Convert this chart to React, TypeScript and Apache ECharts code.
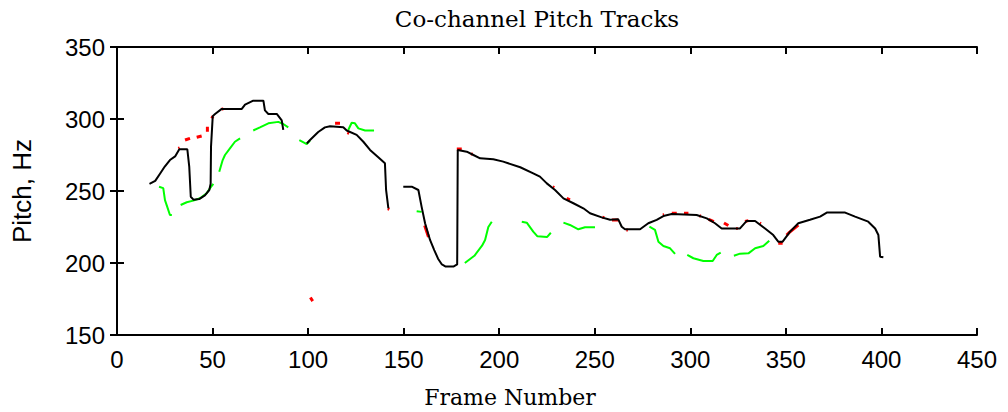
import React, { useEffect, useRef } from "react";
import * as echarts from "echarts";

// Axis ranges and tick spacing
const frameTicks = { min: 0, max: 450, interval: 50 };
const pitchTicks = { min: 150, max: 350, interval: 50 };

// Main (black) pitch track: [frame, pitch in Hz]; null pitch breaks the line
const blackTrack: [number, number | null][] = [
  [17, 255], [20, 257], [22.5, 262], [25, 267], [27.7, 271.5], [30.4, 274], [32.6, 279],
  [36.8, 279], [37.8, 267], [38.6, 246], [40, 244], [43, 244.4], [46, 247], [48.3, 250.7],
  [49, 255], [49.2, 281], [50.1, 302], [51.3, 303.5], [54.8, 307], [65.3, 307], [67, 310],
  [71.3, 312.7], [76.6, 312.7], [77.4, 306], [79.2, 303.5], [83.6, 303.5], [86.2, 299],
  [87, 292.4],
  [93, null],
  [99.3, 283], [101, 285.4], [105.3, 291], [108.8, 294.2], [111.5, 295], [118.4, 294.2],
  [120.2, 292], [125.4, 289], [128.9, 284.2], [132.4, 278.5], [136.7, 273.4], [140.2, 269.2],
  [140.8, 250.7], [142, 238],
  [146, null],
  [149.8, 253], [154.2, 253], [157.7, 250.7], [159.4, 239], [161.2, 227.6], [163.8, 216],
  [166, 209], [168, 203], [170, 199], [172, 197.5], [176, 197.5], [178, 199], [178.3, 278.5],
  [183, 277.3], [186.5, 275], [190, 272.7], [196.9, 272], [202.1, 270.4], [211, 266.5],
  [217.8, 262.3], [221.3, 260], [224.9, 255.3], [229.2, 250.7], [233.6, 244.9], [238.8, 241.5],
  [244, 238], [247.5, 234.5], [253.6, 231.7], [258, 230], [262.3, 230.3], [264.1, 225.2],
  [265.8, 223.4], [273.7, 223.4], [278, 227.6], [282.4, 230], [285.9, 232.6], [290.3, 234],
  [303.3, 233.3], [308.6, 231], [312.9, 227.6], [316.4, 224], [326, 224], [329.5, 229.2],
  [333.9, 229.2], [339.1, 224], [343.4, 219.4], [346, 214.8], [348.3, 214.8], [352.2, 221.8],
  [356.5, 227.6], [362.6, 230], [367.9, 232.2], [371.4, 235], [381, 235], [386.2, 232.2],
  [393.1, 228.7], [396.7, 224], [398.4, 219.4], [399.3, 204.4], [401, 204],
];

// Second talker (green) pitch track
const greenTrack: [number, number | null][] = [
  [22, 253], [24.2, 252], [25.1, 243.7], [26.3, 239], [27.7, 233.3], [28.7, 233.3],
  [31, null],
  [33.3, 240.3], [36.5, 242.2], [39.9, 243.3], [43.4, 245], [46.9, 248.4], [48.7, 252], [50.4, 255],
  [52, null],
  [53.5, 263.4], [55.3, 271.5], [56.5, 275], [59.1, 279.6], [61.7, 284.2], [64.4, 286.6],
  [68, null],
  [71.3, 292], [74.8, 294.2], [79.2, 297], [84.4, 298], [87, 296.5], [89.6, 294.2],
  [92, null],
  [95.4, 285.4], [99.3, 282.6], [101, 285],
  [110, null],
  [121, 292.4], [122.8, 297.4], [124.5, 297], [126.3, 293.5], [129.8, 292], [134.5, 292],
  [145, null],
  [156.8, 236], [159.4, 235.5],
  [170, null],
  [182, 200], [187, 205], [191, 212], [192.6, 216], [194.3, 225], [196.1, 228.7],
  [204, null],
  [211.8, 228.7], [214.4, 228], [217.8, 221.8], [220, 218.5], [225, 218], [227, 221],
  [230, null],
  [233.6, 228], [237, 226.4], [241.4, 223.4], [244.9, 224.8], [250.1, 224.8],
  [265, null],
  [278.6, 225.2], [281.5, 223], [283.3, 214.8], [285.9, 211.8], [289.4, 210.2], [292, 206.3],
  [295, null],
  [298.4, 205.6], [301.6, 203.3], [306.8, 201.4], [311.7, 201.4], [313.8, 205.6], [315.9, 207.2],
  [319, null],
  [322.8, 205], [326, 206.5], [330.4, 206.7], [333.9, 210.2], [338.2, 211.8], [341.3, 215.5],
];

// Reference (red) pitch estimates, short pieces
const redTrack: [number, number | null][] = [
  [32.1, 279.6], [32.8, 280], [34, null],
  [35.6, 285.4], [38.2, 286.6], [40, null],
  [41.7, 287.3], [44.3, 288.2], [46, null],
  [47.3, 291.2], [47.3, 294.7], [48.5, null],
  [49.5, 300.5], [50.3, 302], [52, null],
  [54.8, 306.9], [55.6, 307], [70, null],
  [101.2, 176], [102.4, 173.5], [108, null],
  [114.1, 297], [116.7, 297], [118, null],
  [120.5, 290.5], [121.5, 290], [130, null],
  [141.7, 237.7], [142.5, 237.2], [150, null],
  [161, 226], [163, 218], [170, null],
  [177.8, 279.2], [180.4, 279.2], [182, null],
  [185.3, 275.9], [186, 275.5], [200, null],
  [228, 252.8], [228.8, 252.3], [232, null],
  [235.3, 244.9], [237, 243.8], [250, null],
  [254, 231.8], [255, 231.5], [257, null],
  [259, 229.8], [262.3, 229.8], [264, null],
  [266.5, 222.9], [267.3, 222.9], [280, null],
  [285.6, 233.3], [286.3, 233.5], [288, null],
  [290.3, 234.6], [292.9, 234.6], [295, null],
  [296.7, 234.6], [299, 234.6], [302, null],
  [304.8, 232.8], [305.5, 232.5], [307, null],
  [309.6, 230.3], [312.3, 228.7], [315, null],
  [317.6, 227.8], [319.9, 226], [322, null],
  [324, 224], [324.8, 224], [327, null],
  [328.6, 228.8], [330.4, 229.4], [333, null],
  [336.3, 227.8], [336.9, 227.3], [344, null],
  [346, 213.7], [348.3, 213.7], [349.5, null],
  [350.4, 219.4], [352, 221.5], [356.5, 226.4],
];

const tickFont = { fontFamily: "Liberation Sans, Arial, sans-serif", fontSize: 24, color: "#000" };
const serifFont = { fontFamily: "DejaVu Serif, serif", fontWeight: "normal" as const, color: "#000" };

export default function App() {
  const ref = useRef<HTMLDivElement>(null);

  useEffect(() => {
    document.body.style.margin = "0";
    if (!ref.current) return;
    const chart = echarts.init(ref.current, null, { renderer: "svg" });

    const axisLine = { show: true, lineStyle: { color: "#000", width: 2 } };
    const axisTick = { show: true, inside: true, length: 7, lineStyle: { color: "#000", width: 2 } };

    chart.setOption({
      animation: false,
      backgroundColor: "#fff",
      title: [
        {
          text: "Co-channel Pitch Tracks",
          left: 532,
          top: 2,
          textAlign: "center",
          textStyle: { ...serifFont, fontSize: 23 },
        },
        {
          text: "Frame Number",
          left: 505,
          top: 381,
          textAlign: "center",
          textStyle: { ...serifFont, fontSize: 22 },
        },
      ],
      grid: { left: 117, right: 31, top: 47, bottom: 77, show: false },
      xAxis: [
        {
          type: "value",
          position: "bottom",
          ...frameTicks,
          axisLine,
          axisTick,
          splitLine: { show: false },
          axisLabel: { ...tickFont, margin: 12 },
        },
        {
          type: "value",
          position: "top",
          ...frameTicks,
          axisLine,
          axisTick,
          splitLine: { show: false },
          axisLabel: { show: false },
        },
      ],
      yAxis: [
        {
          type: "value",
          position: "left",
          ...pitchTicks,
          axisLine,
          axisTick,
          splitLine: { show: false },
          axisLabel: { ...tickFont, margin: 12 },
          name: "Pitch, Hz",
          nameLocation: "middle",
          nameRotate: 90,
          nameGap: 82,
          nameTextStyle: { fontFamily: "Liberation Sans, Arial, sans-serif", fontSize: 26, color: "#000" },
        },
        {
          type: "value",
          position: "right",
          ...pitchTicks,
          axisLine,
          axisTick,
          splitLine: { show: false },
          axisLabel: { show: false },
        },
      ],
      series: [
        {
          name: "reference",
          type: "line",
          data: redTrack,
          showSymbol: false,
          connectNulls: false,
          lineStyle: { color: "#ff0000", width: 3 },
          z: 1,
        },
        {
          name: "talker 2",
          type: "line",
          data: greenTrack,
          showSymbol: false,
          connectNulls: false,
          lineStyle: { color: "#00ff00", width: 2 },
          z: 2,
        },
        {
          name: "talker 1",
          type: "line",
          data: blackTrack,
          showSymbol: false,
          connectNulls: false,
          lineStyle: { color: "#000", width: 2 },
          z: 3,
        },
      ],
    });

    return () => chart.dispose();
  }, []);

  return (
    <div
      ref={ref}
      style={{ position: "fixed", left: 0, top: 0, width: 1008, height: 412, background: "#fff" }}
    />
  );
}
